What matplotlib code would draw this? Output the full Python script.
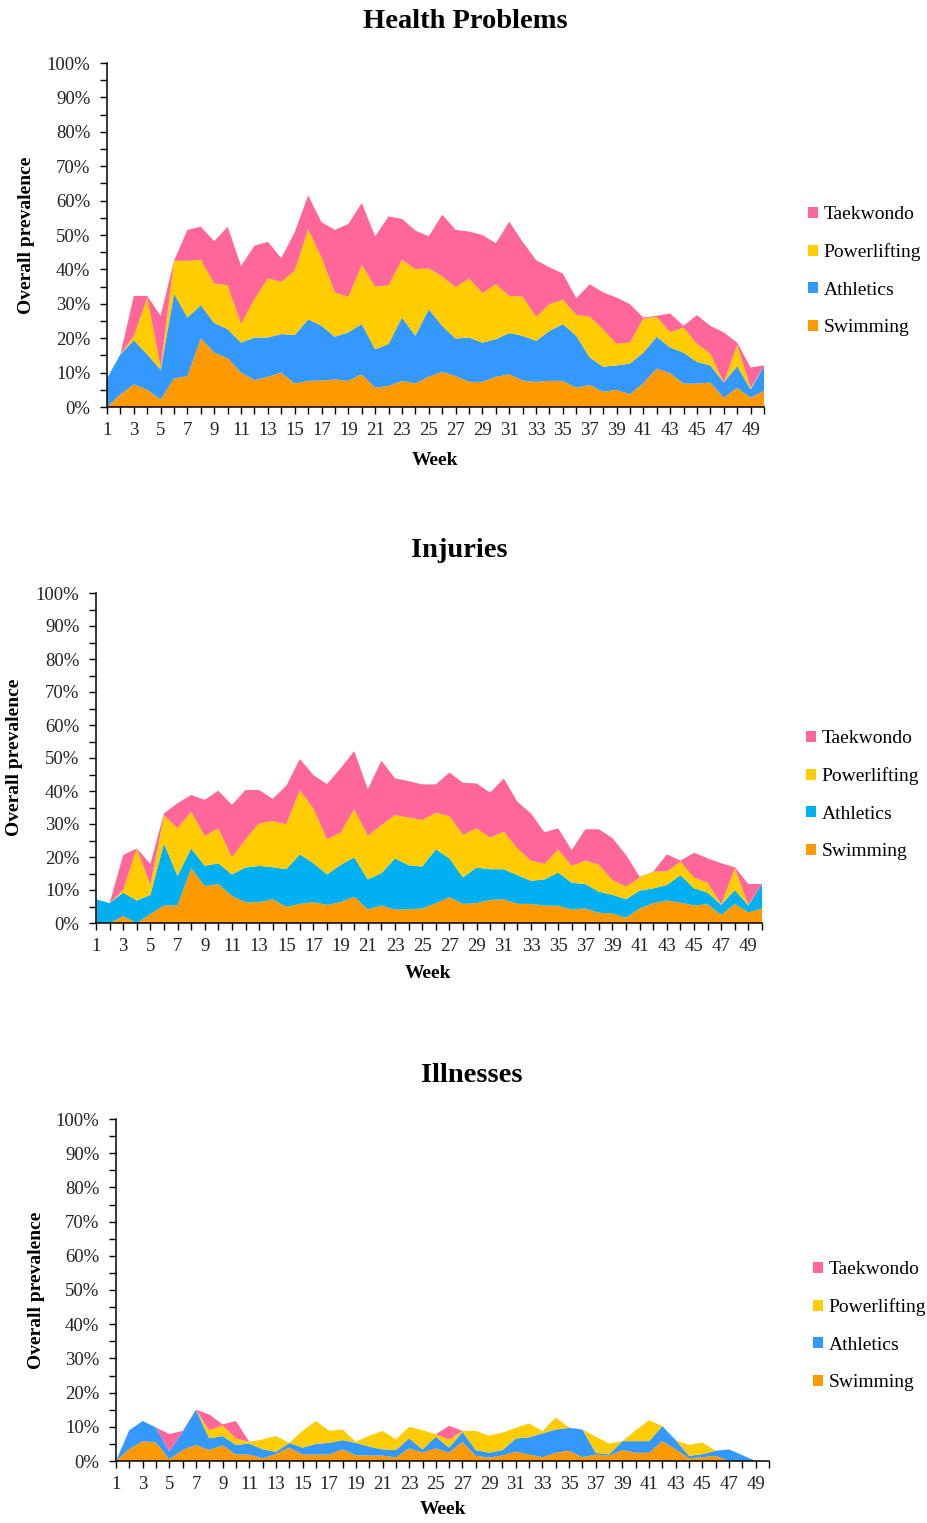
import matplotlib
matplotlib.use("Agg")
import matplotlib.pyplot as plt
from matplotlib.ticker import MultipleLocator, PercentFormatter
from matplotlib.patches import Patch

plt.rcParams['font.family'] = ['Liberation Serif', 'DejaVu Serif']

sports = ["Swimming", "Athletics", "Powerlifting", "Taekwondo"]

# ---- Health problems (weekly prevalence, %) ----
hp_weeks = list(range(1, 51))
hp_swimming = [0, 3.7, 6.6, 5.0, 2.2, 8.3, 9.0, 20.0, 15.8, 14.2,
               10.0, 7.8, 8.8, 10.0, 6.8, 7.6, 7.7, 8.0, 7.6, 9.5,
               5.6, 6.1, 7.6, 6.8, 8.8, 10.2, 9.0, 7.3, 7.3, 8.8,
               9.5, 7.7, 7.3, 7.6, 7.6, 5.6, 6.4, 4.4, 5.0, 3.7,
               6.9, 11.2, 9.8, 6.8, 6.8, 7.1, 2.7, 5.6, 2.7, 4.7]
hp_athletics = [8.3, 11.6, 12.8, 10.3, 8.6, 24.7, 17.0, 9.6, 8.6, 8.4,
                8.7, 12.4, 11.4, 11.2, 14.1, 17.9, 15.9, 12.4, 14.1, 14.6,
                11.2, 12.2, 18.4, 13.9, 19.6, 13.4, 10.9, 12.9, 11.4, 10.9,
                12.0, 13.0, 11.9, 14.5, 16.5, 15.1, 8.0, 7.3, 7.1, 8.9,
                8.9, 9.2, 7.5, 9.0, 6.3, 5.0, 4.4, 6.3, 2.4, 7.2]
hp_powerlifting = [0, 0, 1.3, 16.5, 0.7, 9.5, 16.5, 13.2, 11.5, 12.8,
                   5.4, 11.2, 17.2, 15.2, 18.7, 26.2, 19.9, 12.9, 10.3, 17.2,
                   18.2, 17.1, 16.8, 19.4, 11.9, 14.4, 14.9, 17.2, 14.4, 16.0,
                   10.8, 11.4, 7.0, 7.8, 7.1, 6.1, 11.9, 10.9, 6.3, 6.1,
                   9.9, 5.8, 4.5, 7.3, 5.3, 3.4, 0, 6.2, 0.5, 0]
hp_taekwondo = [0, 0, 11.6, 0.5, 15.0, 0, 9.0, 9.6, 12.3, 17.0,
                16.9, 15.5, 10.6, 6.9, 11.2, 9.8, 10.2, 18.2, 21.2, 18.0,
                14.6, 20.0, 11.9, 11.2, 9.3, 17.9, 16.7, 13.6, 16.9, 11.9,
                21.6, 15.9, 16.5, 10.7, 7.6, 4.8, 9.4, 10.7, 13.4, 11.2,
                0.3, 0.3, 5.4, 0.5, 8.3, 8.1, 14.6, 0.6, 5.9, 0.2]

# ---- Injuries ----
inj_weeks = list(range(1, 51))
inj_swimming = [0, 0, 2.1, 0, 2.7, 5.3, 5.3, 16.6, 11.2, 11.8,
                8.2, 6.3, 6.3, 7.2, 4.9, 5.8, 6.3, 5.5, 6.3, 8.0,
                4.1, 5.3, 4.1, 4.1, 4.4, 6.0, 7.8, 5.8, 6.0, 7.0,
                7.2, 5.8, 5.8, 5.3, 5.2, 4.1, 4.4, 3.1, 2.9, 1.6,
                4.4, 6.0, 6.8, 6.2, 5.3, 5.7, 2.4, 5.8, 3.2, 4.4]
inj_athletics = [7.2, 6.0, 7.1, 6.8, 5.8, 18.8, 8.9, 6.0, 6.1, 6.3,
                 6.5, 10.5, 11.0, 9.7, 11.4, 15.0, 11.8, 9.2, 11.3, 11.9,
                 9.1, 9.8, 15.5, 13.4, 12.7, 16.3, 11.8, 8.0, 10.8, 9.3,
                 9.1, 8.7, 7.0, 7.9, 10.1, 8.1, 7.4, 6.4, 5.6, 5.6,
                 5.4, 4.5, 4.7, 8.3, 5.2, 3.5, 3.1, 4.2, 2.1, 7.4]
inj_powerlifting = [0, 0, 0.8, 15.8, 3.0, 8.6, 14.5, 11.1, 9.1, 10.6,
                    5.2, 8.6, 12.9, 14.0, 13.6, 19.5, 16.6, 10.7, 9.8, 14.6,
                    13.2, 14.6, 13.1, 14.5, 14.1, 11.1, 12.8, 12.9, 11.9, 9.6,
                    11.4, 8.1, 6.1, 4.7, 7.0, 5.1, 7.1, 8.1, 4.5, 3.8,
                    4.0, 5.1, 4.1, 4.1, 3.3, 3.0, 0.2, 6.6, 0.2, 0]
inj_taekwondo = [0, 0, 10.6, 0, 6.4, 0.5, 7.6, 5.1, 10.9, 11.4,
                 15.9, 14.9, 10.1, 6.7, 11.7, 9.4, 10.1, 16.7, 19.5, 17.6,
                 14.1, 19.5, 11.1, 11.0, 10.8, 8.6, 13.2, 15.8, 13.6, 13.6,
                 16.1, 14.2, 14.3, 9.6, 6.4, 4.8, 9.5, 10.8, 12.7, 9.6,
                 0.2, 0, 5.2, 0.3, 7.5, 7.4, 12.4, 0.3, 6.3, 0]

# ---- Illnesses ----
ill_weeks = list(range(1, 50))
ill_swimming = [0, 3.5, 5.8, 5.4, 0.5, 3.2, 4.7, 3.2, 4.6, 1.9,
                1.9, 0.8, 2.0, 3.9, 1.9, 1.9, 1.9, 3.4, 1.7, 1.6,
                1.6, 1.0, 3.7, 2.5, 3.7, 2.4, 5.6, 1.5, 1.0, 1.6,
                2.7, 1.9, 1.1, 2.4, 3.0, 1.1, 1.9, 1.5, 3.2, 2.4,
                2.4, 5.8, 3.4, 0.8, 1.1, 1.5, 0, 0, 0]
ill_athletics = [0, 5.5, 5.9, 4.4, 2.2, 5.3, 10.3, 3.4, 2.7, 2.8,
                 3.2, 2.6, 0.7, 1.4, 2.0, 3.1, 3.4, 2.7, 3.6, 2.6,
                 1.8, 2.2, 2.9, 0.9, 3.4, 1.5, 2.9, 1.7, 1.4, 1.6,
                 3.9, 5.0, 7.0, 6.8, 6.7, 8.1, 0.5, 0.4, 2.6, 3.4,
                 3.4, 4.4, 2.7, 0.7, 0.9, 1.5, 3.4, 1.7, 0]
ill_powerlifting = [0, 0, 0, 0, 0, 0, 0, 2.4, 3.1, 1.9,
                    0.5, 2.9, 4.6, 0, 4.9, 6.7, 3.5, 3.1, 0.3, 3.2,
                    5.4, 3.1, 3.4, 5.6, 0.7, 2.4, 0.3, 5.6, 5.0, 5.1,
                    3.1, 4.1, 0.6, 3.5, 0.1, 0, 4.7, 3.2, 0, 3.2,
                    6.1, 0, 0, 3.2, 3.4, 0, 0, 0, 0]
ill_taekwondo = [0, 0, 0, 0, 5.2, 0.3, 0, 4.6, 0.3, 5.1,
                 0, 0, 0, 0, 0, 0, 0, 0, 0, 0,
                 0, 0, 0, 0, 0, 4.0, 0, 0, 0, 0,
                 0, 0, 0, 0, 0, 0, 0, 0, 0, 0,
                 0, 0, 0, 0, 0, 0, 0, 0, 0]

PINK, YELLOW, ORANGE = "#FF6699", "#FFCC00", "#FF9900"
BLUE, CYAN = "#3399FF", "#00B0F0"

W, H = 928, 1523
fig = plt.figure(figsize=(W / 100, H / 100), dpi=100)


def px_axes(left, right, top, bottom):
    return fig.add_axes([left / W, 1 - bottom / H, (right - left) / W, (bottom - top) / H])


panels = [
    dict(title="Health Problems", weeks=hp_weeks,
         data=[hp_swimming, hp_athletics, hp_powerlifting, hp_taekwondo],
         colors=[ORANGE, BLUE, YELLOW, PINK], box=(107, 764, 63, 407),
         title_xy=(465, 21), ylab_xy=(27, 235), xlab_xy=(435, 460), leg_xy=(808, 206)),
    dict(title="Injuries", weeks=inj_weeks,
         data=[inj_swimming, inj_athletics, inj_powerlifting, inj_taekwondo],
         colors=[ORANGE, CYAN, YELLOW, PINK], box=(96, 762, 593, 923),
         title_xy=(459, 551), ylab_xy=(15, 757), xlab_xy=(428, 973), leg_xy=(806, 730)),
    dict(title="Illnesses", weeks=ill_weeks,
         data=[ill_swimming, ill_athletics, ill_powerlifting, ill_taekwondo],
         colors=[ORANGE, BLUE, YELLOW, PINK], box=(116, 769, 1119, 1461),
         title_xy=(472, 1075), ylab_xy=(37, 1290), xlab_xy=(443, 1510), leg_xy=(813, 1261)),
]

for p in panels:
    l, r, t, b = p["box"]
    ax = px_axes(l, r, t, b)
    vals = [[v / 100 for v in s] for s in p["data"]]
    ax.stackplot(p["weeks"], *vals, colors=p["colors"], linewidth=0)
    ax.set_xlim(1, 50)
    ax.set_ylim(0, 1)
    for s in ("top", "right"):
        ax.spines[s].set_visible(False)
    for s in ("left", "bottom"):
        ax.spines[s].set_linewidth(1.1)
    ax.yaxis.set_major_locator(MultipleLocator(0.1))
    ax.yaxis.set_minor_locator(MultipleLocator(0.05))
    ax.yaxis.set_major_formatter(PercentFormatter(1.0, decimals=0))
    ax.set_xticks(range(1, 51))
    ax.set_xticklabels([str(w) if w % 2 == 1 else "" for w in range(1, 51)])
    ax.tick_params(axis="both", which="both", direction="out", length=5, width=1,
                   labelsize=13.5, colors="black", labelcolor="#222222")
    ax.tick_params(axis="x", pad=6)
    ax.tick_params(axis="y", pad=7)

    tx, ty = p["title_xy"]
    fig.text(tx / W, 1 - ty / H, p["title"], ha="center", va="center",
             fontsize=20.5, fontweight="bold")
    yx, yy = p["ylab_xy"]
    fig.text(yx / W, 1 - yy / H, "Overall prevalence", ha="center", va="center",
             rotation=90, fontsize=14, fontweight="bold")
    xx, xy = p["xlab_xy"]
    fig.text(xx / W, 1 - xy / H, "Week", ha="center", va="center",
             fontsize=14, fontweight="bold")

    handles = [Patch(facecolor=c, edgecolor="none") for c in p["colors"]][::-1]
    labels = sports[::-1]
    lx, ly = p["leg_xy"]
    fig.legend(handles, labels, loc="upper left",
               bbox_to_anchor=(lx / W, 1 - ly / H), frameon=False,
               fontsize=14, handlelength=0.5, handleheight=0.5,
               handletextpad=0.3, labelspacing=1.05, borderpad=0, borderaxespad=0)

fig.savefig("out.png", dpi=100)
